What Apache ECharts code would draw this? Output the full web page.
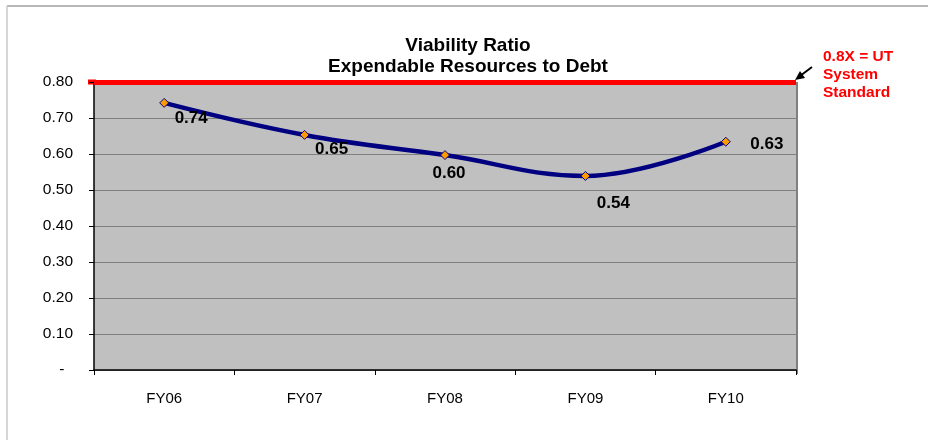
<!DOCTYPE html>
<html><head><meta charset="utf-8">
<script src="https://cdn.jsdelivr.net/npm/echarts@6/dist/echarts.min.js"></script>
<style>html,body{margin:0;padding:0;background:#fff}#c{width:928px;height:440px}</style>
</head><body><div id="c"></div>
<script>
var categories = ['FY06','FY07','FY08','FY09','FY10'];
var ratioValues = [0.742, 0.653, 0.597, 0.539, 0.634];
var ratioLabels = ['0.74','0.65','0.60','0.54','0.63'];
var standardValue = 0.8;
var yTicks = [0, 0.1, 0.2, 0.3, 0.4, 0.5, 0.6, 0.7, 0.8];

var labelOffsets = [[27, 15], [27, 14], [4, 18], [28, 27], [41, 3]];
var font = 'Arial, "Liberation Sans", sans-serif';

var chart = echarts.init(document.getElementById('c'));
chart.setOption({
  animation: false,
  title: {
    text: 'Viability Ratio\nExpendable Resources to Debt',
    left: 463, textAlign: 'center', top: 30,
    textStyle: {fontFamily: font, fontSize: 19, fontWeight: 'bold', color: '#000', lineHeight: 21}
  },
  grid: {left: 94, right: 132, top: 82, bottom: 70, backgroundColor: '#c0c0c0', show: true, borderWidth: 0},
  xAxis: {
    type: 'category', data: categories, boundaryGap: true,
    axisLine: {lineStyle: {color: '#000', width: 1.5}},
    axisTick: {show: true, length: 5, lineStyle: {color: '#000'}},
    axisLabel: {fontFamily: font, fontSize: 15, color: '#000', margin: 21}
  },
  yAxis: {
    type: 'value', min: 0, max: 0.8, interval: 0.1,
    axisLine: {show: true, lineStyle: {color: '#000', width: 1.5}},
    axisTick: {show: true, length: 5, lineStyle: {color: '#000'}},
    axisLabel: {fontFamily: font, fontSize: 15.5, color: '#000', margin: 21,
      formatter: function (v) { return v === 0 ? '-  ' : v.toFixed(2); }},
    splitLine: {show: true, lineStyle: {color: '#808080', width: 1}}
  },
  series: [{
    type: 'line', data: ratioValues.map(function (v, i) {
      return {value: v, label: {offset: labelOffsets[i]}};
    }),
    smooth: 0.4,
    symbol: 'diamond', symbolSize: 9,
    itemStyle: {color: '#ff9900', borderColor: '#000080', borderWidth: 1},
    lineStyle: {color: '#000080', width: 4.5},
    label: {show: true, position: 'inside', fontFamily: font, fontSize: 17, fontWeight: 'bold', color: '#000',
      formatter: function (p) { return ratioLabels[p.dataIndex]; }},
    markLine: {
      silent: true, symbol: 'none', label: {show: false},
      lineStyle: {color: '#ff0000', width: 5, type: 'solid'},
      data: [{yAxis: standardValue}]
    },
    z: 5
  }],
  graphic: [
    {type: 'line', shape: {x1: 7, y1: 6, x2: 928, y2: 6}, style: {stroke: '#a0a0a0', lineWidth: 1.5}},
    {type: 'line', shape: {x1: 7, y1: 6, x2: 7, y2: 440}, style: {stroke: '#c8c8c8', lineWidth: 1.5}},
    {type: 'line', shape: {x1: 797, y1: 82, x2: 797, y2: 374}, style: {stroke: '#808080', lineWidth: 2}},
    {type: 'rect', shape: {x: 88, y: 79.5, width: 8, height: 5}, style: {fill: '#ff0000'}},
    {type: 'line', shape: {x1: 812, y1: 67, x2: 800, y2: 76}, style: {stroke: '#000', lineWidth: 2}},
    {type: 'polygon', shape: {points: [[795, 80], [800, 71], [805, 78]]}, style: {fill: '#000'}},
    {type: 'text', left: 823, top: 48, style: {
      text: '0.8X = UT\nSystem\nStandard', fill: '#ff0000',
      font: 'bold 15.5px ' + font, lineHeight: 18
    }}
  ]
});
</script></body></html>
